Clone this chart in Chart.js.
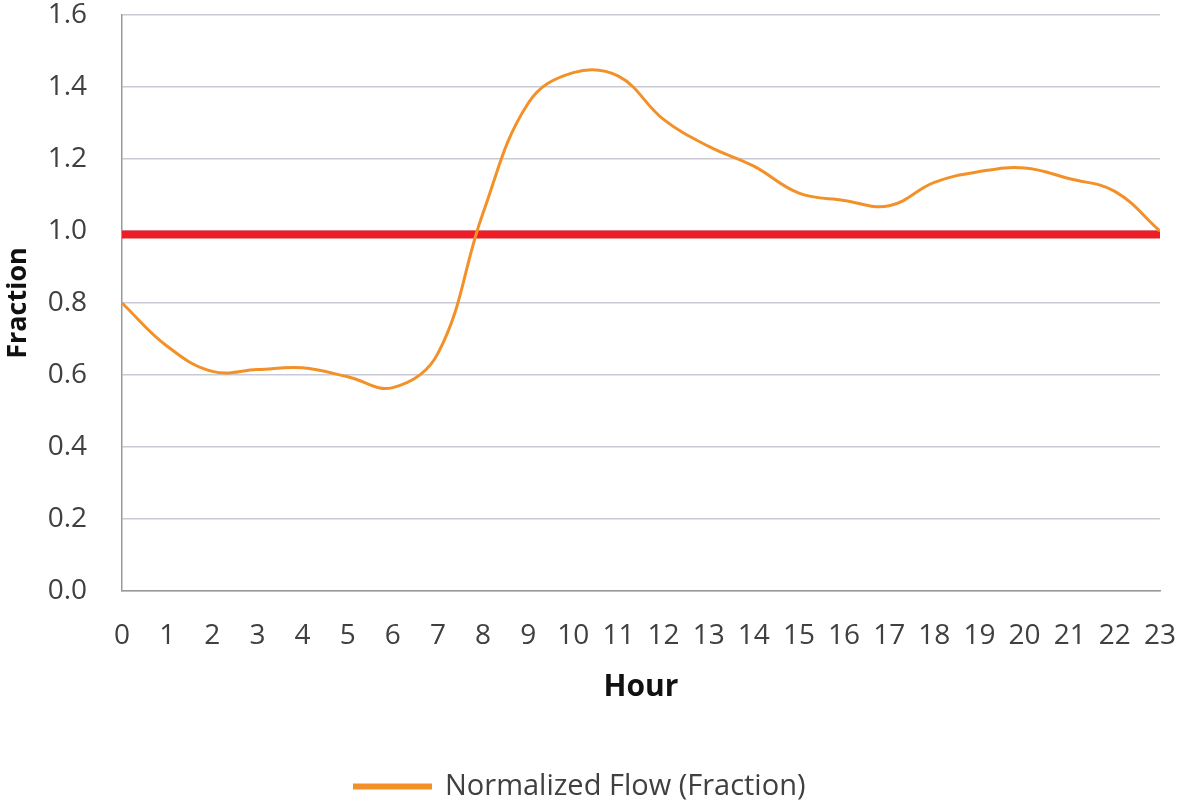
<!DOCTYPE html>
<html>
<head>
<meta charset="utf-8">
<script src="https://cdn.jsdelivr.net/npm/chart.js@4/dist/chart.umd.min.js"></script>
<style>
  html, body { margin: 0; padding: 0; background: #ffffff; }
  #wrap { width: 1184px; height: 802px; position: relative; }
</style>
</head>
<body>
<div id="wrap"><canvas id="c" width="1184" height="802"></canvas></div>
<script>
// Hourly normalized flow profile
const hours = [0, 1, 2, 3, 4, 5, 6, 7, 8, 9, 10, 11, 12, 13, 14, 15, 16, 17, 18, 19, 20, 21, 22, 23];
const normalizedFlow = [0.80, 0.68, 0.61, 0.615, 0.62, 0.595, 0.565, 0.66, 1.05, 1.355, 1.44, 1.43,
                        1.31, 1.235, 1.18, 1.105, 1.085, 1.07, 1.135, 1.165, 1.175, 1.145, 1.11, 1.0];
// Reference level (average = 1)
const referenceLevel = [0.99, 0.99];
const referenceHours = [0, 23];
const yTicks = [0.0, 0.2, 0.4, 0.6, 0.8, 1.0, 1.2, 1.4, 1.6];

const FONT = "'Open Sans', 'Noto Sans', sans-serif";
const TEXT = '#404040';

new Chart(document.getElementById('c'), {
  type: 'line',
  data: {
    datasets: [
      {
        label: 'Normalized Flow (Fraction)',
        data: hours.map((h, i) => ({ x: h, y: normalizedFlow[i] })),
        borderColor: '#F39128',
        backgroundColor: '#F39128',
        borderWidth: 3,
        pointRadius: 0,
        tension: 0.4,
        fill: false,
        order: 1
      },
      {
        label: 'Average',
        data: referenceHours.map((h, i) => ({ x: h, y: referenceLevel[i] })),
        borderColor: '#EE1D25',
        backgroundColor: '#EE1D25',
        borderWidth: 8,
        pointRadius: 0,
        tension: 0,
        fill: false,
        order: 2
      }
    ]
  },
  options: {
    responsive: false,
    animation: false,
    layout: { padding: { top: 15, right: 24, left: 0, bottom: -9 } },
    plugins: {
      legend: {
        position: 'bottom',
        labels: {
          filter: (item) => item.datasetIndex === 0,
          boxWidth: 76,
          boxHeight: 3,
          color: TEXT,
          padding: 0,
          font: { family: FONT, size: 29 }
        }
      },
      tooltip: { enabled: false }
    },
    scales: {
      x: {
        type: 'linear',
        min: 0,
        max: 23,
        afterBuildTicks: (s) => { s.ticks = hours.map(v => ({ value: v })); },
        ticks: {
          color: TEXT,
          padding: 28,
          maxRotation: 0,
          autoSkip: false,
          font: { family: FONT, size: 28 },
          callback: (v) => String(v)
        },
        grid: { color: 'transparent', drawTicks: false },
        border: { display: true, color: '#9a9a9a', width: 1.5 },
        title: {
          display: true,
          text: 'Hour',
          color: '#111',
          font: { family: FONT, size: 30, weight: 'bold' },
          padding: { top: 0, bottom: 67 }
        },
        afterFit: (s) => { s.height = 181; s.paddingLeft = 0; s.paddingRight = 0; }
      },
      y: {
        min: 0,
        max: 1.6,
        afterBuildTicks: (s) => { s.ticks = yTicks.map(v => ({ value: v })); },
        ticks: {
          color: TEXT,
          padding: 35,
          font: { family: FONT, size: 28 },
          callback: (v) => Number(v).toFixed(1)
        },
        grid: { color: '#c9c9d4', lineWidth: 1.5, drawTicks: false },
        border: { display: true, color: '#9a9a9a', width: 1.5 },
        title: {
          display: true,
          text: 'Fraction',
          color: '#111',
          font: { family: FONT, size: 27, weight: 'bold' },
          padding: { top: 2, bottom: 0 }
        },
        afterFit: (s) => { s.width = 122; s.paddingTop = 0; s.paddingBottom = 0; }
      }
    }
  }
});
</script>
</body>
</html>
